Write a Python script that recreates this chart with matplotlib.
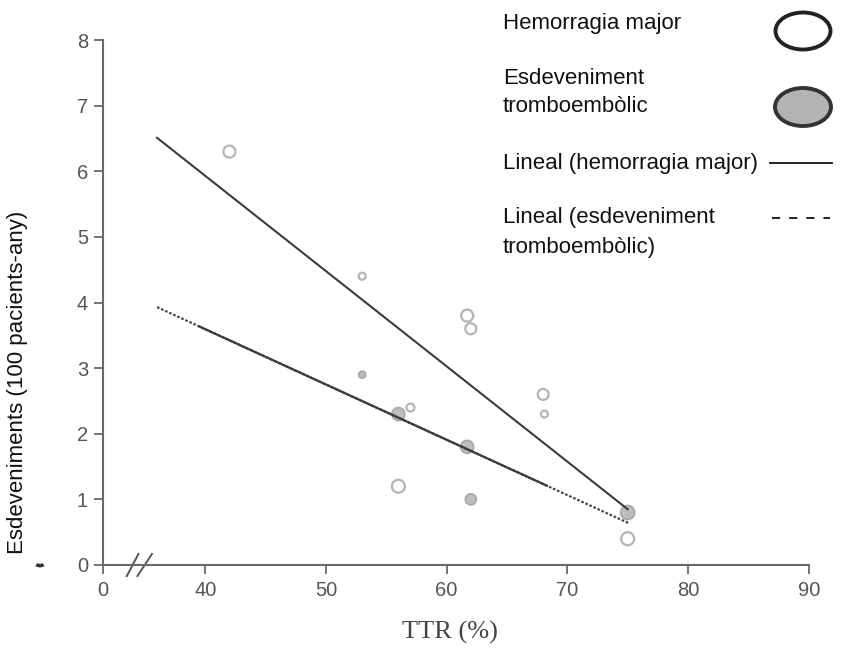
import matplotlib
matplotlib.use("Agg")
import matplotlib.pyplot as plt
from matplotlib.patches import Ellipse, Arc
from matplotlib.lines import Line2D

# data
hem_x = [42, 53, 61.7, 62, 57, 56, 68, 68.1, 75]
hem_y = [6.3, 4.4, 3.8, 3.6, 2.4, 1.2, 2.6, 2.3, 0.4]
hem_d = [12, 7, 12, 11, 8, 13, 11, 7, 13]      # marker diameter (px)

tro_x = [53, 56, 61.7, 62, 75]
tro_y = [2.9, 2.3, 1.8, 1.0, 0.8]
tro_d = [7, 13, 13, 11, 14]

# trend lines (end points)
hem_trend_x = [36, 75]
hem_trend_y = [6.51, 0.85]
tro_trend_x = [36, 75.05]
tro_trend_y = [3.93, 0.64]
tro_solid_x = [39.5, 68.3]

xticks = [31.5, 40, 50, 60, 70, 80, 90]
xtick_labels = ['0', '40', '50', '60', '70', '80', '90']
yticks = [0, 1, 2, 3, 4, 5, 6, 7, 8]

grey = '#555555'

fig = plt.figure(figsize=(8.53, 6.48), dpi=100)
ax = fig.add_axes([102.7 / 853, 83 / 648, 706 / 853, 525 / 648])
ax.set_xlim(31.5, 90)
ax.set_ylim(0, 8)


def px2pt(d):
    return (d * 72 / 100) ** 2


ax.scatter(hem_x, hem_y, s=[px2pt(d) for d in hem_d], facecolor='white',
           edgecolor='#b4b4b4', linewidth=1.6, zorder=3, clip_on=False)
ax.scatter(tro_x, tro_y, s=[px2pt(d) for d in tro_d], facecolor='#bdbdbd',
           edgecolor='#a8a8a8', linewidth=1.2, zorder=3, clip_on=False)


def tro_line(x):
    k = (tro_trend_y[1] - tro_trend_y[0]) / (tro_trend_x[1] - tro_trend_x[0])
    return tro_trend_y[0] + k * (x - tro_trend_x[0])


ax.plot(hem_trend_x, hem_trend_y, color='#3c3c3c', lw=1.5, zorder=4)
ax.plot(tro_trend_x, tro_trend_y, color='#4a4a4a', lw=1.6, ls=(0, (1.2, 0.8)), zorder=4)
ax.plot(tro_solid_x, [tro_line(x) for x in tro_solid_x], color='#3c3c3c', lw=1.6, zorder=4)

# axes styling
for s in ['top', 'right']:
    ax.spines[s].set_visible(False)
for s in ['left', 'bottom']:
    ax.spines[s].set_color('#6a6a6a')
    ax.spines[s].set_linewidth(1.5)
ax.set_xticks(xticks)
ax.set_xticklabels(xtick_labels)
ax.set_yticks(yticks)
ax.tick_params(axis='both', colors='#6a6a6a', labelcolor=grey, length=6.5, width=1.3,
               labelsize=14.5, direction='out')
ax.tick_params(axis='x', pad=5)
ax.tick_params(axis='y', pad=4)
for lab in ax.get_xticklabels() + ax.get_yticklabels():
    lab.set_family('Liberation Sans')

# axis break marks
ax.plot([33.5, 34.46], [-0.168, 0.168], color='#555555', lw=1.4, clip_on=False)
ax.plot([34.38, 35.58], [-0.168, 0.168], color='#555555', lw=1.4, clip_on=False)
ax.add_patch(Arc((26.3, 0.06), 0.9, 0.14, theta1=190, theta2=350, edgecolor='#333333',
                 lw=2.5, clip_on=False))

fig.text(450 / 853, 1 - 632 / 648, 'TTR (%)', family='Liberation Serif', fontsize=19,
         color='#444444', ha='center', va='center')
fig.text(18 / 853, 1 - 382 / 648, 'Esdeveniments (100 pacients-any)', rotation=90,
         ha='center', va='center', fontsize=16, family='Liberation Sans', color='#111111')

# legend drawn by hand
lx = 503 / 853
tk = dict(fontsize=16, family='Liberation Sans', color='#111111', va='center', ha='left')
fig.text(lx, 1 - 24 / 648, 'Hemorragia major', **tk)
fig.text(lx, 1 - 78 / 648, 'Esdeveniment', **tk)
fig.text(lx, 1 - 107 / 648, 'tromboembòlic', **tk)
fig.text(lx, 1 - 163 / 648, 'Lineal (hemorragia major)', **tk)
fig.text(lx, 1 - 217 / 648, 'Lineal (esdeveniment', **tk)
fig.text(lx, 1 - 248 / 648, 'tromboembòlic)', **tk)

fig.patches.append(Ellipse((803 / 853, 1 - 31 / 648), 55 / 853, 37 / 648,
                           transform=fig.transFigure, facecolor='white',
                           edgecolor='#222222', lw=2.8))
fig.patches.append(Ellipse((803 / 853, 1 - 107 / 648), 56 / 853, 38 / 648,
                           transform=fig.transFigure, facecolor='#b3b3b3',
                           edgecolor='#333333', lw=2.8))
fig.lines.append(Line2D([770 / 853, 832 / 853], [1 - 163 / 648] * 2,
                        transform=fig.transFigure, color='#111111', lw=1.3))
fig.lines.append(Line2D([772 / 853, 830 / 853], [1 - 218 / 648] * 2,
                        transform=fig.transFigure, color='#111111', lw=1.3,
                        ls=(0, (4.5, 5))))

fig.savefig('out.png', dpi=100)
